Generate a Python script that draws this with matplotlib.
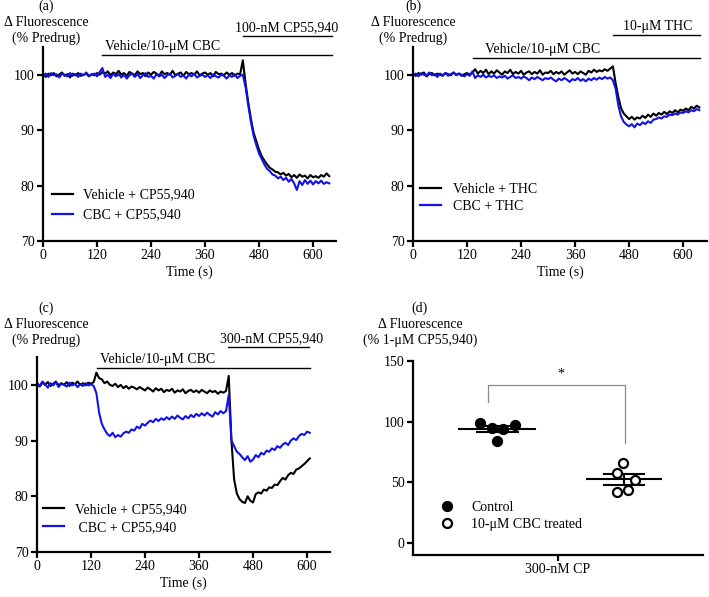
import numpy as np
import matplotlib
matplotlib.use('Agg')
import matplotlib.pyplot as plt
from matplotlib.lines import Line2D

plt.rcParams['font.family'] = ['Liberation Serif', 'DejaVu Serif']
plt.rcParams['font.size'] = 10

BLUE = '#1212e8'
STEP = 6  # seconds between samples

# (a) vehicle / CBC then 100-nM CP55,940
a_vehicle = [
    100.1, 99.6, 100.2, 99.9, 100.3, 99.7, 100.0, 100.4, 99.8, 100.1,
    99.5, 100.2, 99.9, 100.3, 99.8, 100.0, 100.2, 99.7, 100.1, 99.9,
    100.3, 100.0, 100.5, 100.2, 100.6, 99.9, 100.4, 100.1, 100.7, 100.0,
    100.3, 99.8, 100.5, 100.2, 99.9, 100.6, 100.1, 100.3, 99.7, 100.4,
    100.0, 100.5, 100.2, 99.8, 100.6, 100.1, 100.3, 100.0, 100.7, 99.9,
    100.2, 100.4, 99.8, 100.5, 100.1, 100.3, 100.0, 100.6, 99.9, 100.2,
    100.4, 100.0, 100.3, 99.7, 100.5, 100.1, 100.2, 99.9, 100.4, 100.0,
    100.3, 99.8, 100.2, 100.1, 102.6, 98.5, 95.0, 92.0, 89.5, 88.0,
    86.5, 85.3, 84.5, 83.8, 83.2, 82.9, 82.5, 82.4, 82.0, 82.3,
    81.8, 82.1, 81.5, 81.9, 81.4, 82.0, 81.6, 81.8, 81.3, 81.9,
    81.5, 81.7, 81.4, 81.9, 81.6, 82.2, 81.7]
a_cbc = [
    99.8, 100.2, 99.6, 100.3, 99.9, 100.1, 99.5, 100.2, 100.0, 99.7,
    100.3, 99.8, 100.1, 99.6, 100.2, 99.9, 100.4, 99.8, 100.0, 100.2,
    99.7, 100.5, 101.2, 99.6, 100.0, 99.4, 100.2, 99.7, 100.1, 99.5,
    100.0, 99.3, 99.9, 100.2, 99.6, 100.1, 99.4, 99.9, 100.3, 99.6,
    99.8, 99.3, 100.1, 99.7, 100.0, 99.4, 99.9, 100.2, 99.5, 99.8,
    100.1, 99.6, 99.9, 99.3, 100.0, 99.7, 100.2, 99.5, 99.8, 100.0,
    99.6, 99.9, 99.4, 100.1, 99.7, 99.5, 100.0, 99.8, 99.3, 99.9,
    99.6, 100.1, 99.4, 99.8, 100.0, 97.8, 94.5, 91.5, 89.0, 87.3,
    85.8, 84.8, 83.8, 83.0, 82.6, 82.0, 81.8, 81.3, 81.6, 81.0,
    81.4, 80.7, 81.2, 80.4, 79.2, 80.8, 80.1, 81.0, 80.3, 80.9,
    80.2, 80.8, 80.4, 80.9, 80.3, 80.6, 80.4]

# (b) vehicle / CBC then 10-uM THC
b_vehicle = [
    100.2, 99.8, 100.3, 100.0, 100.4, 99.7, 100.1, 100.3, 99.9, 100.2,
    100.0, 99.8, 100.3, 100.1, 99.9, 100.4, 100.0, 100.2, 99.8, 100.1,
    100.3, 100.0, 100.4, 101.0, 100.2, 100.7, 100.3, 100.9, 100.1, 100.6,
    100.2, 100.8, 100.4, 100.0, 100.6, 100.3, 100.9, 100.1, 100.5, 100.2,
    100.7, 100.0, 100.4, 100.6, 100.1, 100.5, 100.2, 100.8, 100.0, 100.4,
    100.3, 100.7, 100.1, 100.5, 100.2, 100.6, 100.0, 100.4, 100.8, 100.2,
    100.5, 100.1, 100.6, 100.3, 100.0, 100.7, 100.4, 100.9, 100.5, 100.8,
    100.6, 101.0, 100.7, 101.1, 101.5, 98.5, 96.0, 94.0, 93.0, 92.5,
    92.0, 92.4, 91.9, 92.3, 92.1, 92.6, 92.2, 92.8, 92.4, 93.0,
    92.6, 93.1, 92.8, 93.3, 92.9, 93.4, 93.1, 93.6, 93.2, 93.7,
    93.5, 93.9, 93.6, 94.2, 93.9, 94.4, 94.1]
b_cbc = [
    99.9, 100.2, 99.7, 100.3, 100.0, 99.8, 100.4, 99.9, 100.1, 99.6,
    100.2, 99.9, 100.3, 99.8, 100.1, 100.4, 99.9, 100.2, 100.0, 99.7,
    100.1, 99.8, 100.6, 99.4, 99.9, 99.6, 100.0, 99.5, 99.8, 99.6,
    99.9, 99.4, 99.7, 99.5, 99.8, 99.3, 99.6, 99.9, 99.4, 99.6,
    99.3, 99.7, 99.4, 99.0, 99.5, 99.2, 99.6, 99.3, 99.0, 99.4,
    99.2, 99.5, 99.1, 98.8, 99.3, 99.0, 99.4, 99.1, 98.7, 99.2,
    99.0, 99.4, 98.9, 99.2, 98.8, 99.3, 99.0, 99.4, 99.1, 99.5,
    99.2, 99.6, 99.3, 99.5, 99.0, 97.5, 94.5, 92.5, 91.5, 91.0,
    90.7, 91.1, 90.5, 91.2, 90.9, 91.4, 91.1, 91.6, 91.3, 91.9,
    92.0, 92.3, 92.1, 92.5, 92.4, 92.8, 92.7, 93.0, 92.8, 93.2,
    93.1, 93.4, 93.2, 93.6, 93.4, 93.8, 93.6]

# (c) vehicle / CBC then 300-nM CP55,940
c_vehicle = [
    100.1, 99.7, 100.4, 100.0, 100.5, 99.8, 100.2, 100.6, 99.9, 100.3,
    100.0, 100.5, 99.8, 100.4, 100.1, 100.6, 100.0, 100.3, 99.9, 100.4,
    100.2, 100.5, 102.2, 101.2, 101.0, 100.3, 100.6, 100.0, 99.8, 100.2,
    99.6, 100.0, 99.4, 99.8, 99.3, 99.7, 99.5, 99.2, 99.6, 99.3,
    99.0, 99.5, 99.2, 98.8, 99.4, 99.0, 99.3, 98.7, 99.1, 98.9,
    99.3, 98.6, 99.0, 98.8, 99.2, 98.5, 98.9, 99.1, 98.7, 99.0,
    98.6, 99.1, 98.8, 98.5, 99.0, 98.7, 98.9, 98.4, 98.8, 98.6,
    98.9, 101.6, 90.0, 83.0, 80.5, 79.5, 79.0, 78.8, 80.0, 79.2,
    78.9, 80.4, 80.7, 80.5, 81.2, 81.0, 81.6, 81.5, 82.1, 82.0,
    82.7, 83.3, 83.0, 83.8, 84.2, 84.0, 84.8, 85.0, 85.4, 85.8,
    86.3, 86.8]
c_cbc = [
    100.4, 99.8, 100.6, 100.1, 99.5, 100.3, 99.9, 100.5, 99.6, 100.2,
    100.0, 99.7, 100.4, 99.9, 100.2, 99.6, 100.1, 99.8, 100.3, 99.9,
    100.1, 99.8, 98.5, 95.0, 93.0, 92.0, 91.2, 90.8, 91.4, 90.6,
    91.0, 90.7, 91.3, 91.6, 91.4, 92.0, 91.8, 92.5, 92.2, 93.0,
    92.7, 93.2, 93.6, 93.3, 93.9, 93.5, 94.0, 93.7, 94.2, 93.8,
    94.3, 93.9, 94.5, 94.1, 93.8, 94.4, 94.0, 94.6, 94.2, 94.8,
    94.4, 94.9, 94.5, 95.0, 94.6, 94.3, 95.1, 94.7, 95.3, 94.9,
    95.3, 98.2, 90.0, 89.0, 88.0, 87.6, 87.0, 86.5, 87.2, 86.2,
    86.6, 87.4, 87.0, 87.8, 87.5, 88.2, 88.0, 88.6, 88.3, 89.0,
    88.7, 89.3, 89.6, 89.2, 90.0, 90.4, 90.1, 90.8, 91.2, 91.0,
    91.6, 91.4]

# (d) response to 300-nM CP (% of 1-uM CP55,940)
d_control = [99, 95, 94, 97, 84]
d_treated = [66, 58, 52, 42, 44]
d_control_x = [0.231, 0.272, 0.310, 0.352, 0.290]
d_treated_x = [0.724, 0.703, 0.766, 0.703, 0.741]

W, H = 709, 597
fig = plt.figure(figsize=(W / 100, H / 100), dpi=100)


def px_axes(l, t, r, b):
    return fig.add_axes([l / W, 1 - b / H, (r - l) / W, (b - t) / H])


def ftext(x, y, s, **kw):
    fig.text(x / W, 1 - y / H, s, **kw)


def style(ax):
    for side in ['top', 'right']:
        ax.spines[side].set_visible(False)
    for side in ['left', 'bottom']:
        ax.spines[side].set_linewidth(1.6)
    ax.tick_params(direction='out', length=4, width=1.6, labelsize=10, pad=2)


def trace_panel(ax, vehicle, cbc, xmax):
    t_v = np.arange(len(vehicle)) * STEP
    t_c = np.arange(len(cbc)) * STEP
    ax.plot(t_v, vehicle, color='black', lw=1.5)
    ax.plot(t_c, cbc, color=BLUE, lw=1.5)
    ax.set_xlim(0, xmax)
    ax.set_ylim(70, 105)
    ax.set_xticks([0, 120, 240, 360, 480, 600])
    ax.set_yticks([70, 80, 90, 100])
    ax.set_xlabel('Time (s)', fontsize=10, labelpad=2)
    style(ax)


def bar(ax, x0, x1, y, label, tx, ha='left'):
    ax.plot([x0, x1], [y, y], color='black', lw=1.0, clip_on=False)
    ax.text(tx, y + 0.25, label, ha=ha, va='bottom', fontsize=10)


def legend(ax, labels, x, y, spacing, pad):
    handles = [Line2D([], [], color='black', lw=1.6),
               Line2D([], [], color=BLUE, lw=1.6)]
    ax.legend(handles, labels, loc='upper left', bbox_to_anchor=(x, y),
              frameon=False, borderpad=0, borderaxespad=0, handlelength=1.5,
              handletextpad=pad, labelspacing=spacing, fontsize=10)


# (a)
ax_a = px_axes(43, 47, 336, 241)
trace_panel(ax_a, a_vehicle, a_cbc, 651)
bar(ax_a, 132, 642, 103.6, 'Vehicle/10-\u03bcM CBC', 138)
bar(ax_a, 444, 642, 107.0, '100-nM CP55,940', 542, ha='center')
legend(ax_a, ['Vehicle + CP55,940', 'CBC + CP55,940'], 0.031, 0.27, 0.5, 0.7)

# (b)
ax_b = px_axes(413, 47, 707, 241)
trace_panel(ax_b, b_vehicle, b_cbc, 653)
bar(ax_b, 133, 638, 103.1, 'Vehicle/10-\u03bcM CBC', 160)
bar(ax_b, 444, 638, 107.2, '10-\u03bcM THC', 543, ha='center')
legend(ax_b, ['Vehicle + THC', 'CBC + THC'], 0.024, 0.30, 0.3, 0.85)

# (c)
ax_c = px_axes(37, 357, 330, 552)
trace_panel(ax_c, c_vehicle, c_cbc, 651)
bar(ax_c, 133, 607, 103.1, 'Vehicle/10-\u03bcM CBC', 140)
bar(ax_c, 424, 604, 106.8, '300-nM CP55,940', 522, ha='center')
legend(ax_c, ['Vehicle + CP55,940', ' CBC + CP55,940'], 0.02, 0.25, 0.35, 0.85)

# (d)
ax_d = px_axes(413, 361, 703, 555)
style(ax_d)
ax_d.set_xlim(0, 1)
ax_d.set_ylim(-10, 150)
ax_d.set_yticks([0, 50, 100, 150])
ax_d.set_xticks([0.5])
ax_d.set_xticklabels(['300-nM CP'])

for xs, ys, filled, half, semhalf in [
        (d_control_x, d_control, True, 0.131, 0.07),
        (d_treated_x, d_treated, False, 0.128, 0.069)]:
    ys = np.array(ys, dtype=float)
    mean = ys.mean()
    sem = ys.std(ddof=1) / np.sqrt(len(ys))
    cx = np.mean(xs)
    ax_d.plot([cx - half, cx + half], [mean, mean], color='black', lw=1.5)
    for yy in (mean - sem, mean + sem):
        ax_d.plot([cx - semhalf, cx + semhalf], [yy, yy], color='black', lw=1.5)
    ax_d.plot([cx, cx], [mean - sem, mean + sem], color='black', lw=1.5)
    ax_d.plot(xs, ys, 'o', ms=6.5, mew=1.6,
              mfc='black' if filled else 'white', mec='black', zorder=3)

ax_d.plot([0.259, 0.259, 0.731, 0.731], [116, 130, 130, 82],
          color='#8a8a8a', lw=0.9)
ax_d.text(0.51, 134, '*', ha='center', va='bottom', fontsize=10)
d_handles = [Line2D([], [], ls='none', marker='o', ms=6.5, mew=1.6,
                    mfc='black', mec='black'),
             Line2D([], [], ls='none', marker='o', ms=6.5, mew=1.6,
                    mfc='white', mec='black')]
ax_d.legend(d_handles, ['Control', '10-\u03bcM CBC treated'], loc='upper left',
            bbox_to_anchor=(0.08, 0.28), frameon=False, borderpad=0,
            borderaxespad=0, handlelength=1.5, handletextpad=1.0,
            labelspacing=0.3, fontsize=10)

# panel headers
for x, y0, letter, unit in [(46, 6, '(a)', '(% Predrug)'),
                            (413, 6, '(b)', '(% Predrug)'),
                            (46, 308, '(c)', '(% Predrug)'),
                            (420, 308, '(d)', '(% 1-\u03bcM CP55,940)')]:
    ftext(x, y0, letter, ha='center', va='center', fontsize=10)
    ftext(x, y0 + 16, '\u0394 Fluorescence', ha='center', va='center', fontsize=10)
    ftext(x, y0 + 32, unit, ha='center', va='center', fontsize=10)

fig.savefig('out.png', dpi=100)
